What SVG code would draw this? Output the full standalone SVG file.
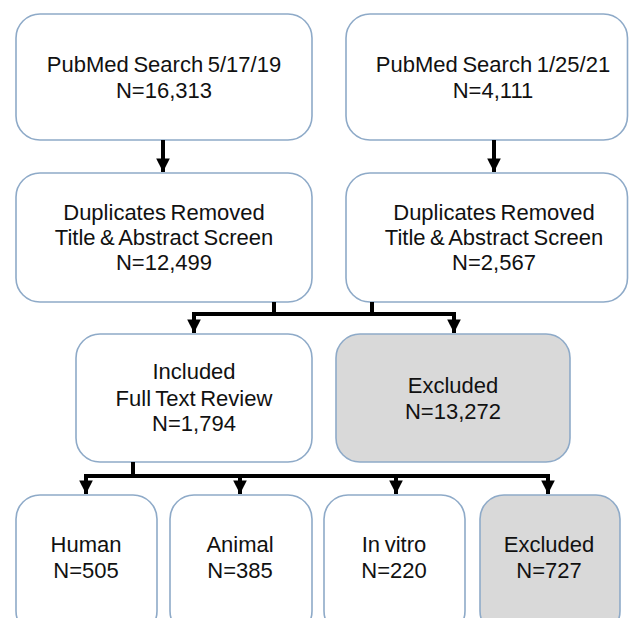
<svg xmlns="http://www.w3.org/2000/svg" width="629" height="618" viewBox="0 0 629 618">
<defs>
<style>
.box{fill:#ffffff;stroke:#8eaac8;stroke-width:1.6}
.gray{fill:#d9d9d9}
.t{font-family:"Liberation Sans",Arial,sans-serif;font-size:22px;fill:#111;text-anchor:middle;word-spacing:-1.5px}
.c{fill:none;stroke:#000;stroke-width:4}
</style>
<marker id="ah" viewBox="0 0 10 10" refX="10" refY="5" markerWidth="3.4" markerHeight="3.4" orient="auto" markerUnits="strokeWidth">
<path d="M0,0 L10,5 L0,10 Z" fill="#000"/>
</marker>
</defs>
<rect width="629" height="618" fill="#ffffff"/>
<g id="n1"><rect class="box" x="16" y="14" width="296" height="126" rx="24"/>
<text class="t" x="164" y="72">PubMed Search 5/17/19</text><text class="t" x="164" y="98">N=16,313</text></g>
<g id="n2"><rect class="box" x="346" y="14" width="281.5" height="126" rx="24"/>
<text class="t" x="493" y="72">PubMed Search 1/25/21</text><text class="t" x="493" y="98">N=4,111</text></g>
<g id="n3"><rect class="box" x="16" y="173" width="296" height="129" rx="24"/>
<text class="t" x="164" y="220">Duplicates Removed</text><text class="t" x="164" y="245">Title &amp; Abstract Screen</text><text class="t" x="164" y="270">N=12,499</text></g>
<g id="n4"><rect class="box" x="346" y="173" width="281.5" height="129" rx="24"/>
<text class="t" x="494" y="220">Duplicates Removed</text><text class="t" x="494" y="245">Title &amp; Abstract Screen</text><text class="t" x="494" y="270">N=2,567</text></g>
<g id="n5"><rect class="box" x="76" y="334" width="236" height="128" rx="24"/>
<text class="t" x="194" y="379">Included</text><text class="t" x="194" y="406">Full Text Review</text><text class="t" x="194" y="431">N=1,794</text></g>
<g id="n6"><rect class="box gray" x="336" y="334" width="234" height="128" rx="24"/>
<text class="t" x="453" y="393">Excluded</text><text class="t" x="453" y="419">N=13,272</text></g>
<g id="n7"><rect class="box" x="16" y="495" width="141" height="140" rx="24"/>
<text class="t" x="86" y="552">Human</text><text class="t" x="86" y="578">N=505</text></g>
<g id="n8"><rect class="box" x="170" y="495" width="142" height="140" rx="24"/>
<text class="t" x="240" y="552">Animal</text><text class="t" x="240" y="578">N=385</text></g>
<g id="n9"><rect class="box" x="324" y="495" width="141" height="140" rx="24"/>
<text class="t" x="394" y="552">In vitro</text><text class="t" x="394" y="578">N=220</text></g>
<g id="n10"><rect class="box gray" x="480" y="495" width="140" height="140" rx="24"/>
<text class="t" x="549" y="552">Excluded</text><text class="t" x="549" y="578">N=727</text></g>
<g id="connectors">
<path class="c" d="M163,140 V172" marker-end="url(#ah)"/>
<path class="c" d="M494,140 V172" marker-end="url(#ah)"/>
<path class="c" d="M274,302 V314 M372,302 V314 M192,314 H456"/>
<path class="c" d="M194,314 V333" marker-end="url(#ah)"/>
<path class="c" d="M454,314 V333" marker-end="url(#ah)"/>
<path class="c" d="M133,462 V476 M84,476 H550"/>
<path class="c" d="M86,476 V494" marker-end="url(#ah)"/>
<path class="c" d="M240,476 V494" marker-end="url(#ah)"/>
<path class="c" d="M396,476 V494" marker-end="url(#ah)"/>
<path class="c" d="M548,476 V494" marker-end="url(#ah)"/>
</g>
</svg>
